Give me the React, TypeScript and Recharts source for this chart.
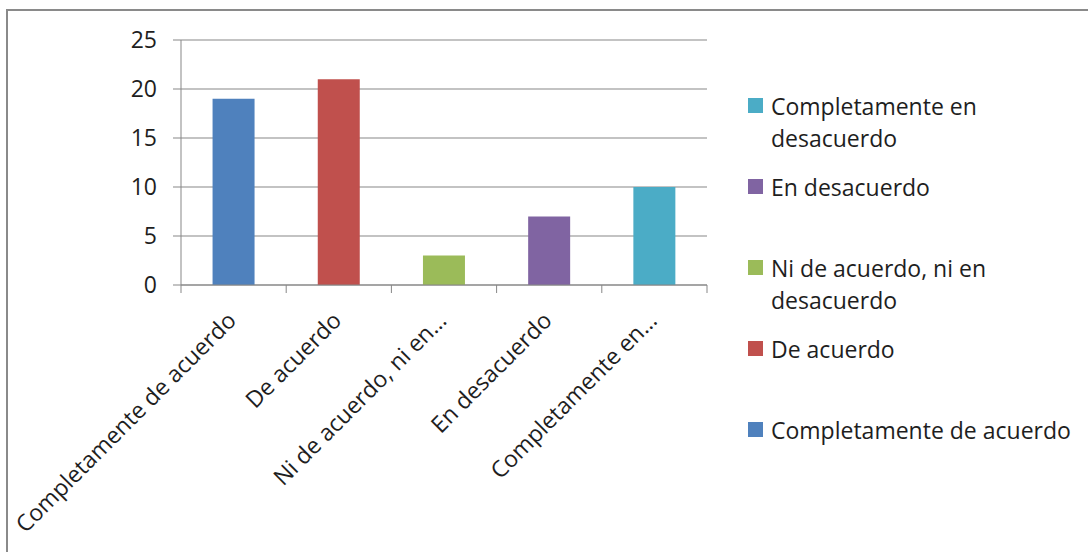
import React from 'react';
import { BarChart, Bar, XAxis, YAxis, CartesianGrid, Legend, Cell } from 'recharts';

const categories = [
  'Completamente de acuerdo',
  'De acuerdo',
  'Ni de acuerdo, ni en desacuerdo',
  'En desacuerdo',
  'Completamente en desacuerdo',
];
const tickLabels = [
  'Completamente de acuerdo',
  'De acuerdo',
  'Ni de acuerdo, ni en…',
  'En desacuerdo',
  'Completamente en…',
];
const values = [19, 21, 3, 7, 10];
const colors = ['#4F81BD', '#C0504D', '#9BBB59', '#8064A2', '#4BACC6'];
const yTicks = [0, 5, 10, 15, 20, 25];
const legendOrder = [4, 3, 2, 1, 0];

const data = categories.map((name, i) => ({ name, value: values[i], label: tickLabels[i] }));

const FONT = '"Open Sans", sans-serif';
const TEXT = '#1e1e1e';
const GRID = '#878787';

const XTick = (props: any) => {
  const { x, y, payload, index } = props;
  const half = payload && payload.offset ? payload.offset : 52.6;
  const i = payload ? payload.index ?? index : index;
  const label = tickLabels[i] ?? '';
  return (
    <g>
      <line x1={x - half} x2={x - half} y1={y} y2={y + 8} stroke={GRID} strokeWidth={1} />
      {i === categories.length - 1 && (
        <line x1={x + half} x2={x + half} y1={y} y2={y + 8} stroke={GRID} strokeWidth={1} />
      )}
      <text
        x={x + 4}
        y={y + 37}
        textAnchor="end"
        transform={`rotate(-45, ${x + 4}, ${y + 37})`}
        fontFamily={FONT}
        fontSize={23}
        fill={TEXT}
      >
        {label}
      </text>
    </g>
  );
};

const LegendContent = () => (
  <div style={{ fontFamily: FONT, fontSize: 23, color: TEXT }}>
    {legendOrder.map((i) => (
      <div key={i} style={{ height: 81, display: 'flex', alignItems: 'flex-start' }}>
        <div
          style={{
            width: 15,
            height: 15,
            background: colors[i],
            marginTop: 8,
            marginRight: 8,
            flexShrink: 0,
          }}
        />
        <div style={{ lineHeight: '32px', width: 316 }}>{categories[i]}</div>
      </div>
    ))}
  </div>
);

export default function App() {
  return (
    <div style={{ position: 'absolute', left: 0, top: 0, width: 1088, height: 552, overflow: 'hidden', background: '#fff' }}>
      <div
        style={{
          position: 'absolute',
          left: 6,
          top: 9,
          width: 1200,
          height: 700,
          borderLeft: '2px solid #8a8a8a',
          borderTop: '2px solid #8a8a8a',
        }}
      />
      <div style={{ position: 'absolute', left: 0, top: 0 }}>
        <BarChart
          width={1088}
          height={552}
          data={data}
          margin={{ top: 40, right: 51, bottom: 7, left: 121 }}
          barCategoryGap="30%"
        >
          <CartesianGrid vertical={false} stroke={GRID} strokeWidth={1} />
          <XAxis
            dataKey="name"
            height={260}
            interval={0}
            tickLine={false}
            tickSize={0}
            tickMargin={0}
            axisLine={{ stroke: GRID }}
            tick={<XTick />}
          />
          <YAxis
            width={60}
            domain={[0, 25]}
            ticks={yTicks}
            interval={0}
            tickSize={8}
            tickMargin={16}
            axisLine={{ stroke: GRID }}
            tickLine={{ stroke: GRID }}
            tick={{ fontFamily: FONT, fontSize: 23, fill: TEXT }}
          />
          <Legend
            layout="vertical"
            align="right"
            verticalAlign="top"
            width={330}
            wrapperStyle={{ left: 748, top: 90, right: 'auto' }}
            content={<LegendContent />}
          />
          <Bar dataKey="value" isAnimationActive={false}>
            {data.map((d, i) => (
              <Cell key={d.name} fill={colors[i]} />
            ))}
          </Bar>
        </BarChart>
      </div>
    </div>
  );
}
